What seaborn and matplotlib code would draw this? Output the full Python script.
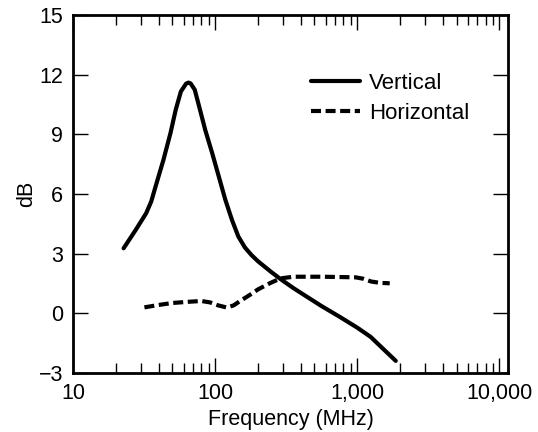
import matplotlib
matplotlib.use("Agg")
import matplotlib.pyplot as plt
import matplotlib.ticker as mticker
import seaborn as sns
import pandas as pd

# values
vert_freq = [22.7, 27.6, 32.7, 35.5, 38.7, 43.3, 48.5, 52.8, 57.4, 62.5, 65.0, 67.2, 71.9, 78.3, 85.2,
             95.4, 106.2, 118.1, 131.3, 145.7, 162.1, 180.2, 200, 247, 290, 357, 441, 559, 750, 1000,
             1240, 1866]
vert_db = [3.27, 4.19, 5.03, 5.62, 6.54, 7.72, 9.06, 10.23, 11.15, 11.55, 11.6, 11.56, 11.24, 10.23, 9.22,
           8.05, 6.87, 5.70, 4.70, 3.86, 3.31, 2.93, 2.62, 2.09, 1.71, 1.26, 0.84, 0.37, -0.17, -0.72,
           -1.18, -2.39]

horiz_freq = [31.8, 40, 50, 65, 80, 92, 105, 121, 135, 150, 175, 200, 247, 290, 357, 574, 973, 1100,
              1250, 1450, 1693]
horiz_db = [0.30, 0.42, 0.52, 0.58, 0.62, 0.55, 0.40, 0.29, 0.40, 0.62, 0.92, 1.2, 1.54, 1.76, 1.84,
            1.84, 1.81, 1.74, 1.60, 1.53, 1.51]

x_ticks = [10, 100, 1000, 10000]
y_ticks = [-3, 0, 3, 6, 9, 12, 15]

sns.set_style("ticks")
plt.rcParams['font.family'] = ['Liberation Sans', 'DejaVu Sans']
plt.rcParams['font.size'] = 15.5
plt.rcParams['text.color'] = 'black'
plt.rcParams['axes.labelcolor'] = 'black'

fig = plt.figure(figsize=(5.38, 4.32), dpi=100)
ax = fig.add_axes([0.1357, 0.1366, 0.8085, 0.8287])

vert = pd.DataFrame({'f': vert_freq, 'db': vert_db})
horiz = pd.DataFrame({'f': horiz_freq, 'db': horiz_db})

sns.lineplot(data=vert, x='f', y='db', ax=ax, color='black', lw=3, label='Vertical', sort=False)
sns.lineplot(data=horiz, x='f', y='db', ax=ax, color='black', lw=3, label='Horizontal', sort=False,
             linestyle=(0, (2.4, 1.1)))

ax.set_xscale('log')
ax.set_xlim(10, 11500)
ax.set_ylim(-3, 15)
ax.set_xticks(x_ticks)
ax.xaxis.set_major_formatter(mticker.FuncFormatter(lambda v, p: f"{int(round(v)):,}"))
ax.xaxis.set_minor_locator(mticker.LogLocator(base=10, subs=range(2, 10)))
ax.xaxis.set_minor_formatter(mticker.NullFormatter())
ax.set_yticks(y_ticks)

ax.tick_params(axis='both', which='major', direction='in', length=11, width=1.0,
               top=True, right=True, labelsize=15.5, pad=7, color='black', labelcolor='black')
ax.tick_params(axis='x', which='minor', direction='in', length=7, width=1.0,
               top=True, bottom=True, color='black')
for s in ax.spines.values():
    s.set_linewidth(2)
    s.set_color('black')

ax.set_xlabel('Frequency (MHz)', fontsize=15.5, labelpad=4, color='black')
ax.set_ylabel('dB', fontsize=15.5, labelpad=1, color='black')

leg = ax.legend(loc='upper left', bbox_to_anchor=(0.547, 0.839), frameon=False, fontsize=16,
                handlelength=2.2, handletextpad=0.4, labelspacing=0.4, borderpad=0, borderaxespad=0)
for t in leg.get_texts():
    t.set_color('black')

fig.savefig('out.png', dpi=100)
